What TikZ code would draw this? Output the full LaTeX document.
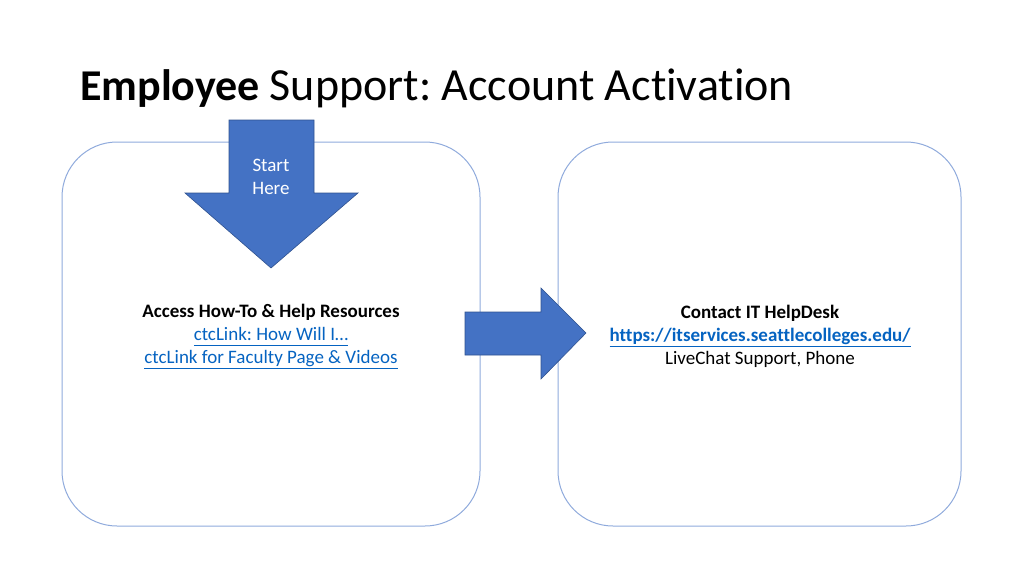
\documentclass[tikz,border=0pt]{standalone}
\usepackage{fontspec}
\setmainfont{Carlito}[Ligatures=NoCommon]
\usepackage{tikz}
\usetikzlibrary{positioning}
\frenchspacing

\definecolor{panelline}{RGB}{143,170,220}
\definecolor{arrowfill}{RGB}{68,114,196}
\definecolor{arrowline}{RGB}{47,82,143}
\definecolor{linkblue}{RGB}{5,99,193}

\newcommand{\weblink}[1]{\textcolor{linkblue}{\underline{#1\vphantom{g}}}}

\begin{document}
\begin{tikzpicture}[x=1pt, y=-1pt,
  panel/.style={draw=panelline, line width=1pt, rounded corners=55pt},
  bigarrow/.style={fill=arrowfill, draw=arrowline, line width=0.6pt},
  bodytext/.style={align=center, font=\fontsize{19}{23}\selectfont}]
  \useasboundingbox (0,0) rectangle (1024,576);

  % Title
  \node[anchor=base west, inner sep=0pt, font=\fontsize{44}{50}\selectfont] (title) at (80,100)
    {\textbf{Employee} {\fontsize{46}{50}\selectfont Support: Account Activation}};

  % Panels
  \draw[panel] (62,142) rectangle (480,526);
  \draw[panel] (558,142) rectangle (961,526);

  % Start arrow
  \draw[bigarrow] (229,120) -- (314,120) -- (314,193) -- (358,193) -- (271,268)
    -- (185,193) -- (229,193) -- cycle;
  \node[bodytext, text=white] (start) at (271,177) {Start\\Here};

  % Next arrow
  \draw[bigarrow] (465,312) -- (541,312) -- (541,288) -- (586,333) -- (541,379)
    -- (541,355) -- (465,355) -- cycle;

  % Panel texts
  \node[bodytext] (howto) at (271,336)
    {\textbf{Access How-To \& Help Resources}\\
     \weblink{ctcLink: How Will I…}\\
     \weblink{ctcLink for Faculty Page \& Videos}};
  \node[bodytext] (helpdesk) at (760,336)
    {\textbf{Contact IT HelpDesk}\\
     \textbf{\weblink{https://itservices.seattlecolleges.edu/}}\\
     LiveChat Support, Phone};
\end{tikzpicture}
\end{document}
